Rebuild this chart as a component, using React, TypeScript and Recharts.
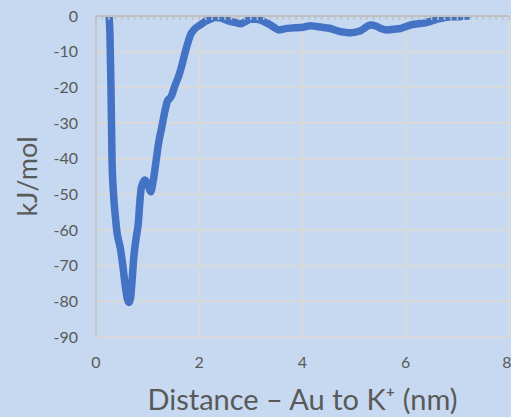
import React from "react";
import {
  LineChart,
  Line,
  XAxis,
  YAxis,
  CartesianGrid,
} from "recharts";

// distance (nm) and energy (kJ/mol)
const distance = [
  0.25, 0.27, 0.29, 0.31, 0.34, 0.38, 0.41, 0.47, 0.52, 0.57, 0.61, 0.64, 0.67,
  0.7, 0.73, 0.78, 0.82, 0.85, 0.88, 0.95, 1.01, 1.06, 1.11, 1.16, 1.22, 1.27,
  1.33, 1.38, 1.46, 1.53, 1.61, 1.67, 1.73, 1.78, 1.83, 1.9, 2.02, 2.12, 2.21,
  2.3, 2.41, 2.5, 2.6, 2.7, 2.8, 2.9, 2.99, 3.1, 3.18, 3.28, 3.38, 3.46, 3.54,
  3.65, 3.77, 3.86, 3.96, 4.06, 4.16, 4.26, 4.35, 4.45, 4.54, 4.64, 4.74, 4.84,
  4.93, 5.03, 5.13, 5.22, 5.32, 5.42, 5.52, 5.64, 5.77, 5.9, 6.0, 6.1, 6.22,
  6.35, 6.48, 6.61, 6.74, 6.87, 7.0, 7.1, 7.2,
];
const energy = [
  0.5, -5, -20, -40, -50, -57, -61, -65, -70, -76, -79.5, -80.3, -79, -74, -68,
  -62, -58, -52, -48, -46, -47.5, -49.3, -46, -41, -35, -31.5, -27, -24, -22.5,
  -19.5, -16.5, -13.5, -10, -7.5, -5.3, -3.8, -2.5, -1.5, -0.9, -0.4, -0.5, -1,
  -1.5, -1.8, -2.2, -1.5, -0.9, -0.9, -1.1, -1.8, -2.5, -3.3, -3.9, -3.6, -3.4,
  -3.3, -3.2, -3, -2.7, -2.9, -3.1, -3.3, -3.5, -4, -4.4, -4.6, -4.7, -4.5, -4.1,
  -3.2, -2.5, -2.8, -3.5, -3.9, -3.7, -3.5, -3, -2.5, -2.2, -2, -1.5, -0.9, -0.5,
  -0.2, -0.2, -0.1, 0,
];

const xTicks = [0, 2, 4, 6, 8];
const yTicks = [0, -10, -20, -30, -40, -50, -60, -70, -80, -90];
const minorTicks = Array.from({ length: 65 }, (_, i) => i * 0.125);

const xTitle = "Distance \u2013 Au to K\u207A (nm)";
const yTitle = "kJ/mol";

const data = distance.map((d, i) => ({ d, e: energy[i] }));

const FONT = "Lato, 'Open Sans', sans-serif";
const TEXT = "#595959";
const AXIS = "#bfbfbf";

export default function App() {
  return (
    <div
      style={{
        position: "absolute",
        top: 0,
        left: 0,
        width: 511,
        height: 417,
        background: "#c6d9f0",
        overflow: "hidden",
        fontFamily: FONT,
      }}
    >
      <LineChart
        width={511}
        height={417}
        data={data}
        margin={{ top: 16, right: 2, left: 0, bottom: 0 }}
      >
        <CartesianGrid stroke="#d9d9d9" strokeWidth={2} />
        <XAxis
          dataKey="d"
          type="number"
          domain={[0, 8]}
          ticks={xTicks}
          axisLine={false}
          tickLine={false}
          tickMargin={14}
          height={80}
          tick={{ fill: TEXT, fontSize: 16, fontFamily: FONT }}
          label={(props: any) => {
            const vb = props.viewBox;
            return (
              <text
                x={vb.x + vb.width / 2}
                y={410}
                textAnchor="middle"
                fill={TEXT}
                fontSize={29}
                fontFamily={FONT}
              >
                {xTitle}
              </text>
            );
          }}
        />
        <XAxis
          xAxisId="top"
          dataKey="d"
          type="number"
          orientation="top"
          domain={[0, 8]}
          ticks={minorTicks}
          interval={0}
          height={1}
          mirror
          tickSize={4}
          tickFormatter={() => ""}
          stroke={AXIS}
          axisLine={{ stroke: AXIS, strokeWidth: 2 }}
          tickLine={{ stroke: AXIS, strokeWidth: 1.5 }}
        />
        <YAxis
          type="number"
          domain={[-90, 0]}
          ticks={yTicks}
          allowDataOverflow
          width={96}
          axisLine={{ stroke: AXIS, strokeWidth: 1.5 }}
          tickLine={false}
          tickMargin={12}
          tick={{ fill: TEXT, fontSize: 16, fontFamily: FONT }}
          label={(props: any) => {
            const vb = props.viewBox;
            const cy = vb.y + vb.height / 2;
            return (
              <text
                x={37}
                y={cy}
                transform={`rotate(-90 37 ${cy})`}
                textAnchor="middle"
                fill={TEXT}
                fontSize={27}
                fontFamily={FONT}
              >
                {yTitle}
              </text>
            );
          }}
        />
        <Line
          dataKey="e"
          type="monotone"
          stroke="#4472c4"
          strokeWidth={7.5}
          strokeLinejoin="round"
          strokeLinecap="round"
          dot={false}
          activeDot={false}
          isAnimationActive={false}
        />
      </LineChart>
    </div>
  );
}
